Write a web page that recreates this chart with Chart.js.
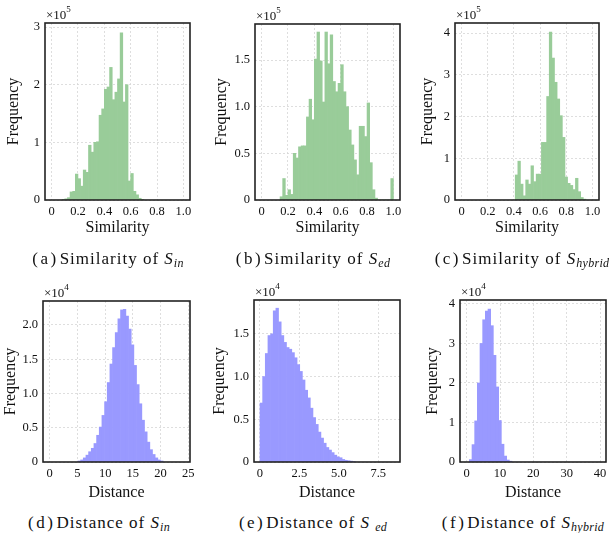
<!DOCTYPE html>
<html>
<head>
<meta charset="utf-8">
<script src="https://cdn.jsdelivr.net/npm/chart.js@4.4.1/dist/chart.umd.min.js"></script>
<style>
  body { margin: 0; background: #fff; font-family: "Liberation Serif", "Times New Roman", serif; }
  #page { position: relative; width: 613px; height: 533px; overflow: hidden; }
  canvas { position: absolute; }
  .cap { position: absolute; width: 230px; text-align: center; font-family: "Liberation Serif", "Times New Roman", serif;
         font-size: 17px; color: #111; letter-spacing: 1px; white-space: nowrap; }
  .cap .lab { letter-spacing: 2.5px; margin-right: 1px; }
  .cap i { font-style: italic; }
  .cap sub { font-size: 12px; font-style: italic; vertical-align: -3px; letter-spacing: 0.3px; }
</style>
</head>
<body>
<div id="page">
  <canvas id="cA"></canvas><canvas id="cB"></canvas><canvas id="cC"></canvas>
  <canvas id="cD"></canvas><canvas id="cE"></canvas><canvas id="cF"></canvas>
  <div class="cap" style="left:-7px; top:249px;"><span class="lab">(a)</span>Similarity of <i>S</i><sub>in</sub></div>
  <div class="cap" style="left:198px; top:249px;"><span class="lab">(b)</span>Similarity of <i>S</i><sub>ed</sub></div>
  <div class="cap" style="left:407px; top:249px;"><span class="lab">(c)</span>Similarity of <i>S</i><sub>hybrid</sub></div>
  <div class="cap" style="left:-16px; top:513px;"><span class="lab">(d)</span>Distance of <i>S</i><sub>in</sub></div>
  <div class="cap" style="left:198px; top:513px;"><span class="lab">(e)</span>Distance of <i>S</i> <sub>ed</sub></div>
  <div class="cap" style="left:408px; top:513px;"><span class="lab">(f)</span>Distance of <i>S</i><sub>hybrid</sub></div>
</div>
<script>
// Histogram counts (units: x10^5 for top row, x10^4 for bottom row)
const simInStart = 0.08, simInWidth = 0.02;
const simInCounts = [0.01, 0.02, 0.04, 0.14, 0.15, 0.45, 0.37, 0.24, 0.52, 0.48, 0.95, 0.83, 1.0, 1.01,
  1.47, 1.58, 1.92, 1.96, 2.3, 1.74, 1.87, 2.1, 2.9, 1.7, 2.0, 0.33, 0.46, 0.15, 0.09, 0.03, 0.01];

const simEdStart = 0.14, simEdWidth = 0.02;
const simEdCounts = [0.035, 0.23, 0.05, 0.11, 0.06, 0.5, 0.45, 0.57, 0.58, 0.58, 0.89, 1.08, 0.86,
  1.51, 1.8, 1.49, 1.05, 1.8, 1.46, 1.77, 1.27, 1.16, 1.25, 1.45, 1.16, 1.0, 0.75, 0.59, 0.43, 0.27,
  0.79, 0.79, 0.68, 1.04, 0.4, 0.11, 0.02, 0, 0, 0, 0, 0, 0.23];

const simHyStart = 0.41, simHyWidth = 0.02;
const simHyCounts = [0.6, 0.93, 0.38, 0.1, 0.48, 0.38, 0.82, 0.44, 0.62, 0.62, 1.38, 1.38, 2.48,
  4.02, 3.4, 2.82, 2.42, 2.02, 1.5, 0.55, 0.4, 0.35, 0.25, 0.52, 0.2, 0.06, 0.02];

const distInStart = 5.1, distInWidth = 0.48;
const distInCounts = [0.015, 0.03, 0.06, 0.1, 0.15, 0.2, 0.27, 0.39, 0.51, 0.68, 0.88, 1.16, 1.43,
  1.67, 1.89, 2.09, 2.22, 2.23, 2.13, 1.94, 1.71, 1.41, 1.13, 0.85, 0.61, 0.44, 0.29, 0.18, 0.11,
  0.06, 0.03, 0.015];

const distEdStart = 0, distEdWidth = 0.168;
const distEdCounts = [0.69, 1.0, 1.27, 1.48, 1.5, 1.77, 1.8, 1.64, 1.48, 1.4, 1.34, 1.32, 1.28,
  1.22, 1.14, 1.06, 0.96, 0.84, 0.75, 0.63, 0.52, 0.44, 0.35, 0.28, 0.22, 0.17, 0.14, 0.11, 0.08,
  0.06, 0.05, 0.03, 0.02, 0.015, 0.01, 0.005];

const distHyStart = 0.8, distHyWidth = 0.8;
const distHyCounts = [0.06, 0.44, 1.04, 2.0, 3.0, 3.6, 3.82, 3.87, 3.45, 2.7, 1.9, 1.05, 0.45,
  0.15, 0.05, 0.02];

const simTicks = ['0', '0.2', '0.4', '0.6', '0.8', '1.0'];

const GREEN = 'rgb(153, 204, 153)';
const BLUE = 'rgb(153, 153, 255)';
const FONT = '"Liberation Serif", serif';

const fmtHalf = v => (v === 0 ? '0' : v.toFixed(1));
const fmtInt = v => String(v);

// x0,y0: canvas origin; box: plot area [L,T,R,B] on the page; yTx: y title center x; xTy: x title center y
const panels = [
  { id: 'cA', start: simInStart, width: simInWidth, counts: simInCounts, color: GREEN, exp: '5',
    x: [-0.05, 1.05, 0.2], y: [3.07, 1], xFmt: v => simTicks[Math.round(v / 0.2)], yFmt: fmtInt,
    xTitle: 'Similarity', x0: 0, y0: 0, w: 205, box: [45, 23, 190, 200], yTx: 14, xTy: 228 },
  { id: 'cB', start: simEdStart, width: simEdWidth, counts: simEdCounts, color: GREEN, exp: '5',
    x: [-0.05, 1.05, 0.2], y: [1.886, 0.5], xFmt: v => simTicks[Math.round(v / 0.2)], yFmt: fmtHalf,
    xTitle: 'Similarity', x0: 205, y0: 0, w: 205, box: [255, 24, 400, 200], yTx: 222, xTy: 228 },
  { id: 'cC', start: simHyStart, width: simHyWidth, counts: simHyCounts, color: GREEN, exp: '5',
    x: [-0.05, 1.05, 0.2], y: [4.24, 1], xFmt: v => simTicks[Math.round(v / 0.2)], yFmt: fmtInt,
    xTitle: 'Similarity', x0: 410, y0: 0, w: 203, box: [455, 23, 599, 200], yTx: 428, xTy: 228 },
  { id: 'cD', start: distInStart, width: distInWidth, counts: distInCounts, color: BLUE, exp: '4',
    x: [-1.2, 25.3, 5], y: [2.35, 0.5], xFmt: fmtInt, yFmt: fmtHalf,
    xTitle: 'Distance', x0: 0, y0: 270, w: 205, box: [43, 301, 190, 462], yTx: 11, xTy: 493 },
  { id: 'cE', start: distEdStart, width: distEdWidth, counts: distEdCounts, color: BLUE, exp: '4',
    x: [-0.38, 8.88, 2.5], y: [1.896, 0.5], xFmt: fmtHalf, yFmt: fmtHalf,
    xTitle: 'Distance', x0: 205, y0: 270, w: 205, box: [254, 300, 400, 462], yTx: 219.5, xTy: 493 },
  { id: 'cF', start: distHyStart, width: distHyWidth, counts: distHyCounts, color: BLUE, exp: '4',
    x: [-2, 41.8, 10], y: [4.1, 1], xFmt: fmtInt, yFmt: fmtInt,
    xTitle: 'Distance', x0: 410, y0: 270, w: 203, box: [460, 300, 606, 462], yTx: 432.5, xTy: 493 }
];

// frame around the plot area plus the "x10^n" multiplier
const framePlugin = {
  id: 'frame',
  afterDraw(chart, args, opts) {
    const { ctx, chartArea: a } = chart;
    ctx.save();
    ctx.strokeStyle = '#222';
    ctx.lineWidth = 1.6;
    ctx.strokeRect(a.left, a.top, a.right - a.left, a.bottom - a.top);
    ctx.fillStyle = '#111';
    ctx.textBaseline = 'alphabetic';
    ctx.font = '13px ' + FONT;
    ctx.fillText('×10', a.left + 1, a.top - 4);
    const w = ctx.measureText('×10').width;
    ctx.font = '9px ' + FONT;
    ctx.fillText(opts.exp, a.left + 1 + w, a.top - 11);
    ctx.restore();
  }
};

const TITLE_SIZE = 16;
const TITLE_LH = TITLE_SIZE * 1.2;

panels.forEach(p => {
  const [L, T, R, B] = p.box;
  const xAxisH = p.xTy + TITLE_LH / 2 - B;
  const h = Math.round(B + xAxisH - p.y0 + 2);
  const canvas = document.getElementById(p.id);
  canvas.width = p.w;
  canvas.height = h;
  canvas.style.left = p.x0 + 'px';
  canvas.style.top = p.y0 + 'px';

  const points = p.counts.map((c, i) => ({ x: p.start + p.width * (i + 0.5), y: c }));

  new Chart(canvas.getContext('2d'), {
    type: 'bar',
    data: {
      datasets: [{
        data: points,
        backgroundColor: p.color,
        borderWidth: 0,
        barPercentage: 1,
        categoryPercentage: 1
      }]
    },
    options: {
      responsive: false,
      animation: false,
      devicePixelRatio: 1,
      layout: { padding: { top: T - p.y0, right: p.x0 + p.w - R, left: 0, bottom: h - (B - p.y0) - xAxisH } },
      plugins: { legend: { display: false }, tooltip: { enabled: false }, frame: { exp: p.exp } },
      scales: {
        x: {
          type: 'linear',
          offset: false,
          min: p.x[0], max: p.x[1],
          afterFit: s => { s.height = xAxisH; },
          ticks: { stepSize: p.x[2], includeBounds: false, padding: 4, maxRotation: 0, color: '#111',
                   font: { family: FONT, size: 12.5 }, callback: v => p.xFmt(v) },
          grid: { color: '#d6d6d6', lineWidth: 0.8, drawTicks: false, offset: false },
          border: { display: false, dash: [2, 2] },
          title: { display: true, text: p.xTitle, color: '#111', padding: 0,
                   font: { family: FONT, size: TITLE_SIZE } }
        },
        y: {
          min: 0, max: p.y[0],
          afterFit: s => { s.width = L - p.x0; },
          ticks: { stepSize: p.y[1], includeBounds: false, padding: 5, color: '#111',
                   font: { family: FONT, size: 12.5 }, callback: v => p.yFmt(v) },
          grid: { color: '#d6d6d6', lineWidth: 0.8, drawTicks: false },
          border: { display: false, dash: [2, 2] },
          title: { display: true, text: 'Frequency', color: '#111',
                   padding: { top: p.yTx - p.x0 - TITLE_LH / 2, bottom: 0 },
                   font: { family: FONT, size: TITLE_SIZE } }
        }
      }
    },
    plugins: [framePlugin]
  });
});
</script>
</body>
</html>
